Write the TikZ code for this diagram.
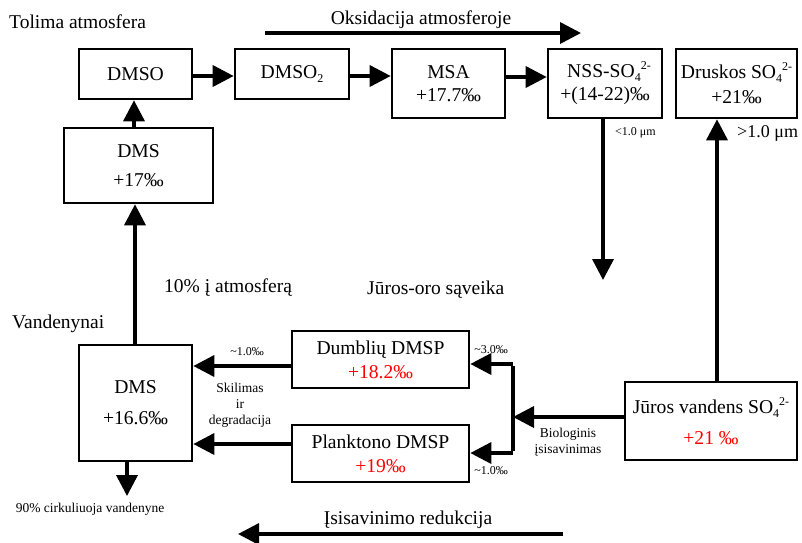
\documentclass[tikz,border=0pt]{standalone}
\usepackage{fontspec}
\setmainfont{Liberation Serif}
\usetikzlibrary{arrows.meta}
\tikzset{
  box/.style={draw, line width=2.6pt, inner sep=0pt, align=center,
    font=\fontsize{19.6}{22}\selectfont},
  conn/.style={line width=3.6pt, -{Triangle[length=21pt,width=21pt]}},
  plain/.style={line width=3.6pt},
  lbl/.style={inner sep=0pt, font=\fontsize{19.5}{22}\selectfont},
  small/.style={inner sep=0pt, font=\fontsize{13.5}{16}\selectfont, align=center},
  tiny/.style={inner sep=0pt, font=\fontsize{12}{14}\selectfont},
}
\newcommand{\lowix}[1]{\raisebox{-4pt}{\fontsize{12}{12}\selectfont #1}}
\newcommand{\highix}[1]{\raisebox{8pt}{\fontsize{12}{12}\selectfont #1}}
\newcommand{\sulf}{SO\lowix{4}\highix{2-}}
\begin{document}
\begin{tikzpicture}[x=1pt,y=-1pt]
\useasboundingbox (0,0) rectangle (802,542);
% boxes
\node[box, minimum width=113pt, minimum height=50pt] (dmso) at (135.5,74) {DMSO};
\node[box, minimum width=114pt, minimum height=50pt] (dmso2) at (292,74) {DMSO\lowix{2}};
\node[box, minimum width=113pt, minimum height=69pt] (msa) at (448.5,83.5) {MSA\\[1pt]+17.7‰};
\node[box, minimum width=114pt, minimum height=69pt] (nss) at (605,83.5) {\hspace*{8pt}NSS-\sulf\\[1pt]+(14-22)‰};
\node[box, minimum width=121pt, minimum height=69pt] (drus) at (736.5,83.5) {Druskos \sulf\\[3pt]+21‰};
\node[box, minimum width=149pt, minimum height=75pt] (dmsa) at (138.5,165.5) {DMS\\[7pt]+17‰};
\node[box, minimum width=113pt, minimum height=116pt] (dmso_w) at (135.5,403) {DMS\\[9pt]+16.6‰};
\node[box, minimum width=177pt, minimum height=57pt] (dumb) at (380.5,359.5) {Dumblių DMSP\\[2pt]\textcolor{red}{+18.2‰}};
\node[box, minimum width=177pt, minimum height=57pt] (plank) at (380.5,453.5) {Planktono DMSP\\[2pt]\textcolor{red}{+19‰}};
\node[box, minimum width=172pt, minimum height=78pt] (juros) at (711,421) {Jūros vandens \sulf\\[9pt]\textcolor{red}{+21 ‰}};
% free labels
\node[lbl, anchor=west] (tol) at (9,22) {Tolima atmosfera};
\node[lbl] (oks) at (421,20) {Oksidacija atmosferoje};
\node[lbl, anchor=west] (ten) at (164,288) {10\% į atmosferą};
\node[lbl, anchor=west] (jor) at (367,290) {Jūros-oro sąveika};
\node[lbl, anchor=west] (van) at (12,324) {Vandenynai};
\node[lbl] (isis) at (408,520) {Įsisavinimo redukcija};
\node[inner sep=0pt, font=\fontsize{18}{20}\selectfont, anchor=west] (gt) at (737,133) {>1.0 μm};
\node[tiny, anchor=west] (lt) at (615,133) {<1.0 μm};
\node[tiny] (d1) at (247,352) {\textasciitilde1.0‰};
\node[tiny] (d3) at (491,350) {\textasciitilde3.0‰};
\node[tiny] (p1) at (491,471) {\textasciitilde1.0‰};
\node[small] (skil) at (240,405) {Skilimas\\ir\\degradacija};
\node[small] (bio) at (568,442) {Biologinis\\įsisavinimas};
\node[small] (cirk) at (90,509) {90\% cirkuliuoja vandenyne};
% helper coordinates
\coordinate (oksA) at (265,33);
\coordinate (oksB) at (581,33);
\coordinate (isA) at (563,534);
\coordinate (isB) at (238,534);
\coordinate (nssEnd) at (603,280);
\coordinate (dmsEnd) at (127,496);
\coordinate (jun) at (513,417);
\coordinate (junT) at (513,364);
\coordinate (junB) at (513,453);
% connectors
\draw[conn] (oksA) -- (oksB);
\draw[conn] (isA) -- (isB);
\draw[conn] (dmso.east |- 0,76) -- (dmso2.west |- 0,76);
\draw[conn] (dmso2.east |- 0,76) -- (msa.west |- 0,76);
\draw[conn] (msa.east |- 0,77) -- (nss.west |- 0,77);
\draw[conn] (dmsa.north -| 134,0) -- (dmso.south -| 134,0);
\draw[conn] (dmso_w.north -| 135,0) -- (dmsa.south -| 135,0);
\draw[conn] (nss.south -| nssEnd) -- (nssEnd);
\draw[conn] (juros.north -| 717,0) -- (drus.south -| 717,0);
\draw[conn] (juros.west |- jun) -- (jun);
\draw[plain] ([yshift=-1.8pt]junT) -- ([yshift=1.8pt]junB);
\draw[conn] (junT) -- (dumb.east |- junT);
\draw[conn] (junB) -- (plank.east |- junB);
\draw[conn] (dumb.west |- 0,366) -- (dmso_w.east |- 0,366);
\draw[conn] (plank.west |- 0,444) -- (dmso_w.east |- 0,444);
\draw[conn] (dmso_w.south -| dmsEnd) -- (dmsEnd);
\end{tikzpicture}
\end{document}
